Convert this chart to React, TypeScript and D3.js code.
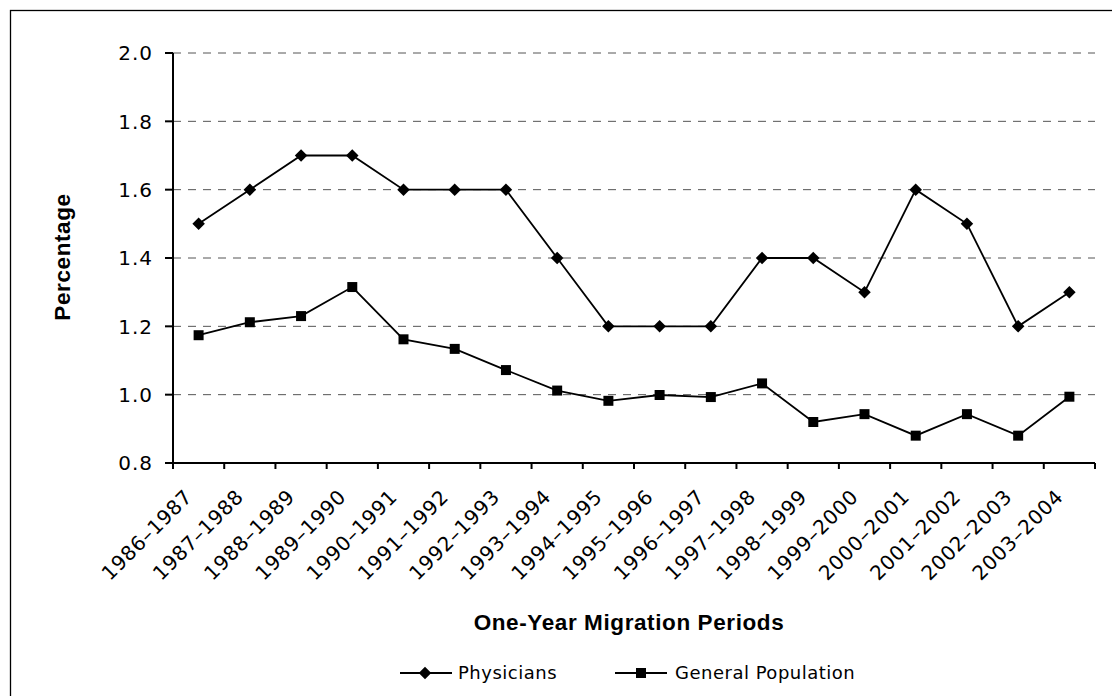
import React from "react";
import * as d3 from "d3";

const categories = [
  "1986–1987", "1987–1988", "1988–1989", "1989–1990", "1990–1991", "1991–1992",
  "1992–1993", "1993–1994", "1994–1995", "1995–1996", "1996–1997", "1997–1998",
  "1998–1999", "1999–2000", "2000–2001", "2001–2002", "2002–2003", "2003–2004",
];
const physicians = [1.5, 1.6, 1.7, 1.7, 1.6, 1.6, 1.6, 1.4, 1.2, 1.2, 1.2, 1.4, 1.4, 1.3, 1.6, 1.5, 1.2, 1.3];
const generalPopulation = [1.174, 1.212, 1.23, 1.315, 1.162, 1.134, 1.072, 1.012, 0.982, 0.999, 0.993, 1.033, 0.92, 0.943, 0.88, 0.943, 0.88, 0.994];
const yTicks = [0.8, 1.0, 1.2, 1.4, 1.6, 1.8, 2.0];
const seriesNames = ["Physicians", "General Population"];

const W = 1112;
const H = 696;
const left = 173;
const right = 1095;
const top = 53;
const bottom = 463;

const tickFont = "'DejaVu Sans', Verdana, sans-serif";
const titleFont = "'Liberation Sans', Arial, sans-serif";

export default function App() {
  const x = d3.scaleBand<string>().domain(categories).range([left, right]).paddingInner(0).paddingOuter(0);
  const y = d3.scaleLinear().domain([0.8, 2.0]).range([bottom, top]);
  const cx = (c: string) => (x(c) as number) + x.bandwidth() / 2;
  const line = d3.line<number>().x((_, i) => cx(categories[i])).y((v) => y(v));
  const boundaries = d3.range(categories.length + 1).map((i) => left + i * x.bandwidth());
  const diamond = d3.symbol().type(d3.symbolDiamond2).size(100)();
  const square = d3.symbol().type(d3.symbolSquare).size(100)();

  return (
    <svg width={W} height={H} style={{ position: "absolute", left: 0, top: 0, background: "#fff" }}>
      <rect x={0} y={0} width={W} height={H} fill="#fff" />
      <rect x={10.5} y={10.5} width={1110} height={700} fill="none" stroke="#000" strokeWidth={1.3} />
      {/* gridlines */}
      {yTicks.filter((t) => t > 0.8).map((t) => (
        <line key={t} x1={left} x2={right} y1={y(t)} y2={y(t)} stroke="#555" strokeWidth={1} strokeDasharray="8,7" />
      ))}
      {/* y axis */}
      <line x1={left} x2={left} y1={top} y2={bottom} stroke="#000" strokeWidth={2} />
      {yTicks.map((t) => (
        <g key={t}>
          <line x1={left - 8} x2={left} y1={y(t)} y2={y(t)} stroke="#000" strokeWidth={2} />
          <text x={153} y={y(t)} dy="0.36em" textAnchor="end" fontFamily={tickFont} fontSize={20} letterSpacing={1} fill="#000">
            {t.toFixed(1)}
          </text>
        </g>
      ))}
      {/* x axis */}
      <line x1={left - 8} x2={right} y1={bottom} y2={bottom} stroke="#000" strokeWidth={2} />
      {boundaries.map((b, i) => (
        <line key={i} x1={b} x2={b} y1={bottom} y2={bottom + 6} stroke="#000" strokeWidth={2} />
      ))}
      {categories.map((c) => {
        const bx = cx(c) - 5;
        const by = bottom + 35;
        return (
          <text key={c} x={bx} y={by} transform={`rotate(-45 ${bx} ${by})`} textAnchor="end" fontFamily={tickFont} fontSize={20} letterSpacing={0.7} fill="#000">
            {c}
          </text>
        );
      })}
      {/* series */}
      <path d={line(physicians) as string} fill="none" stroke="#000" strokeWidth={1.8} />
      <path d={line(generalPopulation) as string} fill="none" stroke="#000" strokeWidth={1.8} />
      {physicians.map((v, i) => (
        <path key={"p" + i} d={diamond as string} transform={`translate(${cx(categories[i])},${y(v)})`} fill="#000" />
      ))}
      {generalPopulation.map((v, i) => (
        <path key={"g" + i} d={square as string} transform={`translate(${cx(categories[i])},${y(v)})`} fill="#000" />
      ))}
      {/* axis titles */}
      <text x={69.5} y={257} transform="rotate(-90 69.5 257)" textAnchor="middle" fontFamily={titleFont} fontWeight="bold" fontSize={22.5} letterSpacing={0.6} fill="#000">
        Percentage
      </text>
      <text x={629} y={630} textAnchor="middle" fontFamily={titleFont} fontWeight="bold" fontSize={22.5} letterSpacing={0.6} fill="#000">
        One-Year Migration Periods
      </text>
      {/* legend */}
      <g>
        <line x1={400} x2={452} y1={673} y2={673} stroke="#000" strokeWidth={1.8} />
        <path d={diamond as string} transform="translate(425,673)" fill="#000" />
        <text x={458} y={673} dy="0.36em" fontFamily={tickFont} fontSize={18} letterSpacing={0.5} fill="#000">{seriesNames[0]}</text>
        <line x1={615} x2={667} y1={673} y2={673} stroke="#000" strokeWidth={1.8} />
        <path d={square as string} transform="translate(641,673)" fill="#000" />
        <text x={675} y={673} dy="0.36em" fontFamily={tickFont} fontSize={18} letterSpacing={0.5} fill="#000">{seriesNames[1]}</text>
      </g>
    </svg>
  );
}
